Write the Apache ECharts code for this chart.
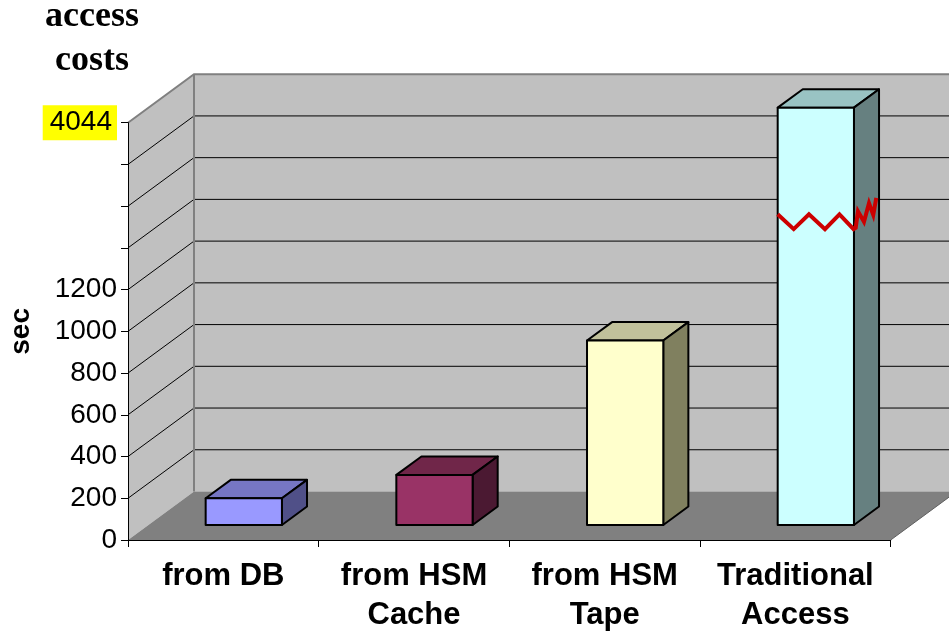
<!DOCTYPE html>
<html><head><meta charset="utf-8">
<script src="https://cdn.jsdelivr.net/npm/echarts@6/dist/echarts.min.js"></script>
<style>html,body{margin:0;padding:0;background:#fff;overflow:hidden}#c{width:949px;height:633px}</style>
</head><body><div id="c"></div>
<script>
// ---- data ----
const categories = ['from DB', 'from HSM\nCache', 'from HSM\nTape', 'Traditional\nAccess'];
const accessSeconds = [128, 240, 884, 4044];
const yTickLabels = ['0', '200', '400', '600', '800', '1000', '1200', '', '', '', '4044'];
const yTickStep = 200;
const breakStart = 1200;     // axis is linear up to this value
const breakTopValue = 4044;  // value represented by the top tick

// ---- styles ----
const faceColors = ['#9999FF', '#993366', '#FFFFCC', '#CCFFFF'];
const topColors  = ['#7676C4', '#702649', '#C1C19B', '#99C3C3'];
const sideColors = ['#505088', '#4B1932', '#80805F', '#668080'];
const FONT = '"Liberation Sans", Arial, sans-serif';
const DX = 66, DY = -48.5;      // 3D depth offset of the back wall
const F1 = 0.31, F2 = 0.69;     // bar depth range (fraction of depth)

const axisMax = yTickStep * (yTickLabels.length - 1);
function toAxis(v) {
  return v <= breakStart ? v
    : breakStart + (v - breakStart) * (axisMax - breakStart) / (breakTopValue - breakStart);
}

const chart = echarts.init(document.getElementById('c'), null, { renderer: 'canvas' });

function wallsRender(params, api) {
  const cs = params.coordSys;
  const L = cs.x, R = cs.x + cs.width;
  const y0 = api.coord([0, 0])[1];
  const yT = api.coord([0, axisMax])[1];
  const children = [];
  children.push({ type: 'polygon', shape: { points: [[L, y0], [L, yT], [L + DX, yT + DY], [L + DX, y0 + DY]] },
    style: { fill: '#C0C0C0' } });
  children.push({ type: 'polygon', shape: { points: [[L + DX, yT + DY], [R + DX, yT + DY], [R + DX, y0 + DY], [L + DX, y0 + DY]] },
    style: { fill: '#C0C0C0' } });
  children.push({ type: 'polygon', shape: { points: [[L, y0], [R, y0], [R + DX, y0 + DY], [L + DX, y0 + DY]] },
    style: { fill: '#808080' } });
  children.push({ type: 'line', shape: { x1: R, y1: y0, x2: R + DX, y2: y0 + DY },
    style: { stroke: '#606060', lineWidth: 1 } });
  for (let k = 1; k < yTickLabels.length - 1; k++) {
    const y = api.coord([0, k * yTickStep])[1];
    children.push({ type: 'polyline', shape: { points: [[L, y], [L + DX, y + DY], [R + DX, y + DY]] },
      style: { stroke: '#000', lineWidth: 1, fill: null } });
  }
  children.push({ type: 'polyline', shape: { points: [[L, yT], [L + DX, yT + DY], [R + DX, yT + DY]] },
    style: { stroke: '#808080', lineWidth: 2, fill: null } });
  children.push({ type: 'line', shape: { x1: L + DX, y1: yT + DY, x2: L + DX, y2: y0 + DY },
    style: { stroke: '#808080', lineWidth: 2 } });
  return { type: 'group', children: children };
}

function barsRender(params, api) {
  const i = api.value(0);
  const raw = api.value(2);
  const band = api.size([1, 0])[0];
  const hw = band * 0.2;
  const base = api.coord([i, 0]);
  const top = api.coord([i, api.value(1)]);
  const cx = base[0];
  const fx1 = DX * F1, fy1 = DY * F1, fx2 = DX * F2, fy2 = DY * F2;
  const xl = cx - hw + fx1, xr = cx + hw + fx1;
  const yt = top[1] + fy1, yb = base[1] + fy1;
  const bx = fx2 - fx1, by = fy2 - fy1;
  const stroke = { stroke: '#000', lineWidth: 2, lineJoin: 'round' };
  const children = [
    { type: 'polygon', shape: { points: [[xl, yt], [xr, yt], [xr + bx, yt + by], [xl + bx, yt + by]] },
      style: Object.assign({ fill: topColors[i] }, stroke) },
    { type: 'polygon', shape: { points: [[xr, yt], [xr + bx, yt + by], [xr + bx, yb + by], [xr, yb]] },
      style: Object.assign({ fill: sideColors[i] }, stroke) },
    { type: 'rect', shape: { x: xl, y: yt, width: xr - xl, height: yb - yt },
      style: Object.assign({ fill: faceColors[i] }, stroke) }
  ];
  if (raw > breakStart) {
    // break marker (zigzag) across the truncated bar
    const hi = api.coord([i, 1489])[1] + fy1;
    const lo = api.coord([i, 1418])[1] + fy1;
    const w = xr - xl;
    const pts = [];
    const front = [0, 0.21, 0.41, 0.62, 0.81, 0.995];
    front.forEach((f, k) => pts.push([xl + f * w, k % 2 === 0 ? hi : lo]));
    const side = [0.07, 0.16, 0.40, 0.60, 0.77, 0.89];
    side.forEach((s, k) => pts.push([xr + s * bx, (k % 2 === 0 ? lo : hi) + s * by]));
    children.push({ type: 'polyline', shape: { points: pts },
      style: { stroke: '#CC0000', lineWidth: 4, fill: null, lineJoin: 'miter' } });
  }
  return { type: 'group', children: children };
}

const option = {
  animation: false,
  backgroundColor: '#fff',
  title: {
    text: 'access\ncosts', left: 92, top: -5, padding: 0, textAlign: 'center',
    textStyle: { fontFamily: '"Liberation Serif", "Times New Roman", serif', fontWeight: 'bold',
      fontSize: 36, lineHeight: 44, color: '#000' }
  },
  grid: { left: 128, right: 58.3, top: 122.7, bottom: 93, containLabel: false, outerBoundsMode: 'none' },
  xAxis: {
    type: 'category', data: categories, z: 5,
    axisLine: { lineStyle: { color: '#000', width: 1 } },
    axisTick: { show: true, length: 7, interval: 0, lineStyle: { color: '#000' } },
    axisLabel: { interval: 0, margin: 17, color: '#000', fontFamily: FONT, fontWeight: 'bold',
      fontSize: 31, lineHeight: 39 },
    splitLine: { show: false }
  },
  yAxis: {
    type: 'value', min: 0, max: axisMax, interval: yTickStep, z: 5,
    name: 'sec', nameLocation: 'middle', nameRotate: 90, nameGap: 93, nameMoveOverlap: false,
    nameTextStyle: { fontFamily: FONT, fontWeight: 'bold', fontSize: 28, color: '#000' },
    axisLine: { show: true, lineStyle: { color: '#000', width: 1 } },
    axisTick: { show: true, length: 7, lineStyle: { color: '#000' } },
    splitLine: { show: false },
    axisLabel: {
      margin: 11, color: '#000', fontFamily: FONT, fontSize: 28,
      formatter: function (v) {
        const k = Math.round(v / yTickStep);
        const s = yTickLabels[k] || '';
        return k === yTickLabels.length - 1 ? '{hl|' + s + '}' : s;
      },
      rich: { hl: { backgroundColor: '#FFFF00', padding: [3, 5, 4, 7], fontSize: 28, fontFamily: FONT, color: '#000' } }
    }
  },
  series: [
    { type: 'custom', name: 'walls', z: 1, silent: true, renderItem: wallsRender, data: [[0, 0]] },
    { type: 'custom', name: 'access costs', z: 2, renderItem: barsRender,
      encode: { x: 0, y: 1 },
      data: accessSeconds.map((v, i) => [i, toAxis(v), v]) }
  ]
};
chart.setOption(option);
</script>
</body></html>
